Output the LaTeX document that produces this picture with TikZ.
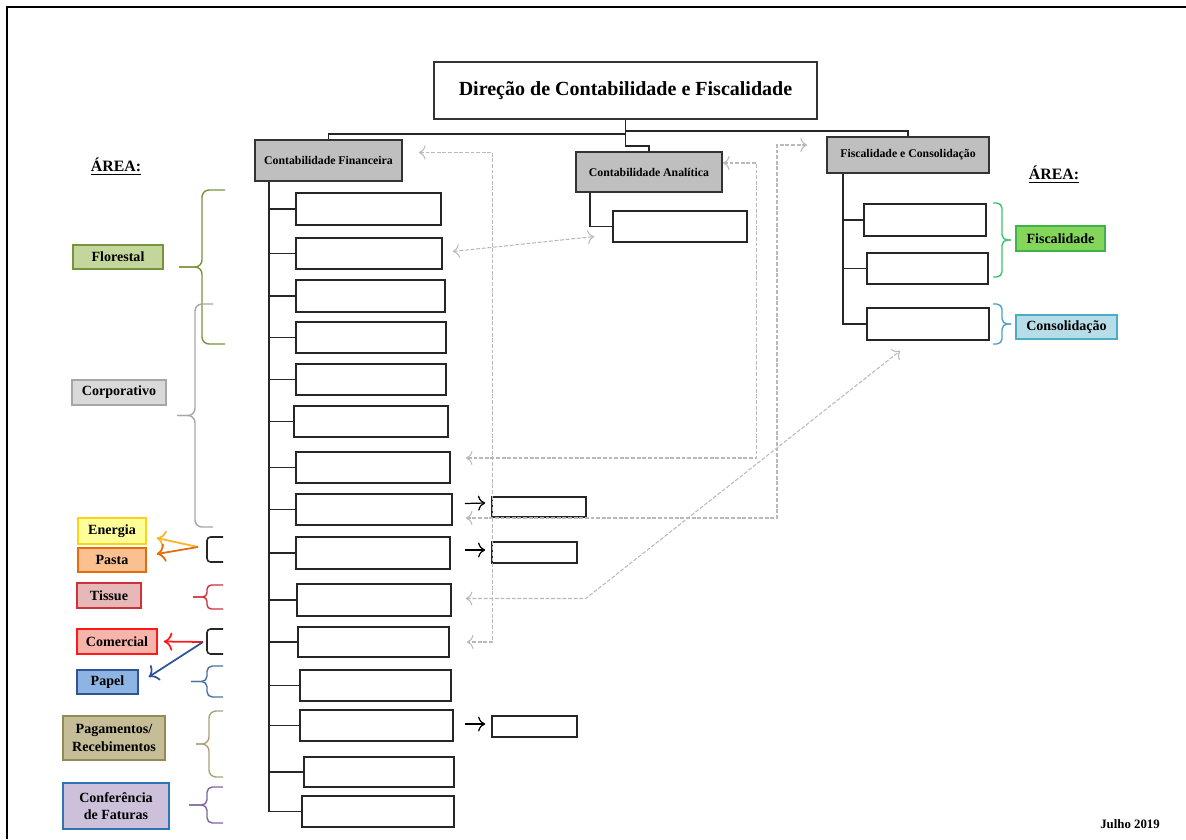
\documentclass[tikz,border=0pt]{standalone}
\usepackage{fontspec}
\setmainfont{Liberation Serif}
\usetikzlibrary{calc,arrows.meta}

\definecolor{cinza}{HTML}{BFBFBF}
\definecolor{verdeflor}{HTML}{C3D69B}
\definecolor{verdeflorb}{HTML}{77933C}
\definecolor{corpfill}{HTML}{D9D9D9}
\definecolor{corpb}{HTML}{A6A6A6}
\definecolor{energfill}{HTML}{FFFF99}
\definecolor{energb}{HTML}{FFD11A}
\definecolor{energseta}{HTML}{F9B428}
\definecolor{pastafill}{HTML}{FAC090}
\definecolor{pastab}{HTML}{E46C0A}
\definecolor{tissuefill}{HTML}{E6B9B8}
\definecolor{tissueb}{HTML}{D0303A}
\definecolor{comfill}{HTML}{F6B4AA}
\definecolor{comb}{HTML}{FF1A1A}
\definecolor{papelfill}{HTML}{8DB4E2}
\definecolor{papelb}{HTML}{2F5597}
\definecolor{papelchav}{HTML}{4A6FA5}
\definecolor{pagfill}{HTML}{C4BD97}
\definecolor{pagb}{HTML}{948A54}
\definecolor{pagchav}{HTML}{A9A27A}
\definecolor{conffill}{HTML}{CCC0DA}
\definecolor{confb}{HTML}{2E75B6}
\definecolor{confchav}{HTML}{8064A2}
\definecolor{fiscfill}{HTML}{83D65A}
\definecolor{fiscb}{HTML}{3CB44B}
\definecolor{fiscchav}{HTML}{3CC36E}
\definecolor{consfill}{HTML}{B7DEE8}
\definecolor{consb}{HTML}{4BACC6}
\definecolor{conschav}{HTML}{4AA3C0}

\tikzset{
	chefe/.style={draw=black!80, line width=0.9pt, inner sep=0pt, font=\bfseries\fontsize{11.4}{13}\selectfont},
	secao/.style={draw=black!80, fill=cinza, line width=1pt, inner sep=0pt, font=\bfseries\fontsize{6.7}{8}\selectfont},
	posto/.style={draw=black!85, fill=white, line width=0.9pt, inner sep=0pt},
	area/.style={line width=0.8pt, inner sep=0pt, align=center, font=\bfseries\fontsize{8}{10}\selectfont},
	ramo/.style={draw=black!85, line width=0.9pt},
	elo/.style={<->, draw=gray!55, dash pattern=on 2.2pt off 1pt, line width=0.6pt},
	curly/.style={line width=0.8pt, rounded corners=4pt},
}

\def\caixa[#1](#2)(#3,#4)(#5,#6)#7{\node[#1, minimum width={(#5-#3)*0.02cm}, minimum height={(#6-#4)*0.02cm}] (#2) at ({(#3+#5)/2},{(#4+#6)/2}) {#7};}
\def\chaveta[#1](#2,#3,#4)(#5,#6){%
	\draw[#1] (#2,#5) -- (#3,#5) -- (#3,{(#5+#6)/2}) -- (#4,{(#5+#6)/2});
	\draw[#1] (#2,#6) -- (#3,#6) -- (#3,{(#5+#6)/2}) -- (#4,{(#5+#6)/2});}

\begin{document}
\begin{tikzpicture}[x=0.02cm, y=-0.02cm, >={To[scale=1.3]}]
			%%%%% START %%%%%
			\useasboundingbox (0,0) rectangle (1186,839);
			\draw[line width=1.7pt] (7,839) -- (7,7) -- (1186,7);
			
			\caixa[chefe](top)(434,62)(817,119){Direção de Contabilidade e Fiscalidade}
			\caixa[secao](cf)(255,140)(402,181){Contabilidade Financeira}
			\caixa[secao](ca)(576,152)(722,192){Contabilidade Analítica}
			\caixa[secao](fc)(827,137)(989,173){Fiscalidade e Consolidação}
			
			\draw[ramo] (top.south) -- ++(0,14) -| (cf.north);
			\draw[ramo] (top.south) -- ++(0,11) -| (fc.north);
			\draw[ramo] (top.south) -- ++(0,26) -| (ca.north);
			
			% postos da contabilidade financeira
			\caixa[posto](f1)(296,193)(441,225){}
			\caixa[posto](f2)(296,238)(442,269){}
			\caixa[posto](f3)(296,280)(445,312){}
			\caixa[posto](f4)(296,322)(446,353){}
			\caixa[posto](f5)(296,364)(446,395){}
			\caixa[posto](f6)(294,406)(448,437){}
			\caixa[posto](f7)(296,452)(450,483){}
			\caixa[posto](f8)(296,494)(452,525){}
			\caixa[posto](f9)(296,537)(450,569){}
			\caixa[posto](f10)(297,584)(451,616){}
			\caixa[posto](f11)(298,627)(449,657){}
			\caixa[posto](f12)(300,670)(451,701){}
			\caixa[posto](f13)(300,710)(453,741){}
			\caixa[posto](f14)(304,757)(454,787){}
			\caixa[posto](f15)(302,796)(454,827){}
			
			\coordinate (cft) at ($(cf.south west)+(15,0)$);
			\draw[ramo] (cft) -- (cft |- f15.west);
			\foreach \i in {1,...,15}
				\draw[ramo] (cft |- f\i.west) -- (f\i.west);
			
			\caixa[posto](sa)(492,497)(586,517){}
			\caixa[posto](sb)(492,542)(577,563){}
			\caixa[posto](sc)(492,716)(577,737){}
			\draw[->, line width=0.7pt] ($(f8.east)+(12,-6)$) -- ($(sa.west)+(-6,-4)$);
			\draw[->, line width=0.7pt] ($(f9.east)+(14,-3)$) -- ($(sb.west)+(-6,-2.5)$);
			\draw[->, line width=0.7pt] ($(f13.east)+(11,-1.5)$) -- ($(sc.west)+(-6,-2.5)$);
			
			% contabilidade analitica
			\caixa[posto](ca1)(613,211)(747,242){}
			\coordinate (cat) at ($(ca.south west)+(15,0)$);
			\draw[ramo] (cat) |- (ca1.west);
			
			% fiscalidade e consolidacao
			\caixa[posto](fs1)(864,204)(986,236){}
			\caixa[posto](fs2)(867,253)(988,284){}
			\caixa[posto](fs3)(867,308)(989,340){}
			\coordinate (fct) at ($(fc.south west)+(17,0)$);
			\draw[ramo] (fct) |- (fs3.west);
			\draw[ramo] (fct |- fs1.west) -- (fs1.west);
			\draw[ramo] (fct |- fs2.west) -- (fs2.west);
			
			% ligacoes tracejadas
			\draw[elo] ($(cf.east)+(16,-8)$) -| ($(f11.east)+(43,0)$) -- ($(f11.east)+(17,0)$);
			\draw[elo] ($(f2.east)+(10,-2)$) -- ($(ca1.west)+(-18,10)$);
			\draw[elo] ($(ca.east)+(0,-9)$) -| ($(f7.east)+(306,-9.5)$) -- ($(f7.east)+(15,-9.5)$);
			\draw[elo] ($(f8.east)+(13,8.5)$) -| (777,145) -- ($(fc.west)+(-19,-10)$);
			\draw[elo] ($(f10.east)+(14,-1.5)$) -- ++(120,0) -- ($(fs3.south west)+(34,10)$);
			
			% areas
			\node[font=\bfseries\fontsize{9}{11}\selectfont] (arealeft) at (116,167) {\underline{ÁREA:}};
			\node[font=\bfseries\fontsize{9}{11}\selectfont] (arearight) at (1054,175) {\underline{ÁREA:}};
			
			\caixa[area, draw=verdeflorb, fill=verdeflor](florestal)(73,245)(163,269){Florestal}
			\caixa[area, draw=corpb, fill=corpfill](corporativo)(72,380)(166,405){Corporativo}
			\caixa[area, draw=energb, fill=energfill](energia)(78,518)(146,544){Energia}
			\caixa[area, draw=pastab, fill=pastafill](pasta)(78,548)(146,572){Pasta}
			\caixa[area, draw=tissueb, fill=tissuefill](tissue)(77,583)(141,608){Tissue}
			\caixa[area, draw=comb, fill=comfill](comercial)(77,629)(157,654){Comercial}
			\caixa[area, draw=papelb, fill=papelfill](papel)(77,670)(138,694){Papel}
			\caixa[area, draw=pagb, fill=pagfill](pagamentos)(63,716)(165,760){Pagamentos/\\Recebimentos}
			\caixa[area, draw=confb, fill=conffill](conferencia)(63,783)(169,829){Conferência\\de Faturas}
			\caixa[area, draw=fiscb, fill=fiscfill](fiscalidade)(1016,226)(1105,251){Fiscalidade}
			\caixa[area, draw=consb, fill=consfill](consolidacao)(1016,315)(1117,339){Consolidação}
			
			\chaveta[curly, verdeflorb](225,202,179)(190,344)
			\chaveta[curly, corpb](213,195,177)(304,527)
			\chaveta[curly, tissueb, rounded corners=2.5pt](223,207,193)(585,609)
			\chaveta[curly, papelchav, rounded corners=3pt](223,207,191)(666,697)
			\chaveta[curly, pagchav](223,209,196)(711,777)
			\chaveta[curly, confchav, rounded corners=3pt](223,207,189)(787,823)
			\chaveta[curly, fiscchav, rounded corners=3pt](993,1002,1011)(203,277)
			\chaveta[curly, conschav, rounded corners=3pt](993,1002,1011)(304,344)
			
			\draw[ramo, rounded corners=2pt] (223,537) -- (207,537) -- (207,562) -- (223,562);
			\draw[ramo, rounded corners=2pt] (223,629) -- (207,629) -- (207,654) -- (223,654);
			\coordinate (ep) at (198,547);
			\coordinate (cp) at (203,642);
			\draw[->, energseta, line width=1pt] (ep) -- ($(energia.east)+(10,7)$);
			\draw[->, pastab, line width=1pt] (ep) -- ($(pasta.east)+(10,-6)$);
			\draw[->, comb, line width=1pt] (cp) -- ($(comercial.east)+(6,0)$);
			\draw[->, papelb, line width=1pt] (cp) -- ($(papel.east)+(10,-5)$);
			
			\node[font=\bfseries\fontsize{7.3}{9}\selectfont] (data) at (1130,824) {Julho 2019};
			%%%%% END %%%%%
\end{tikzpicture}
\end{document}
